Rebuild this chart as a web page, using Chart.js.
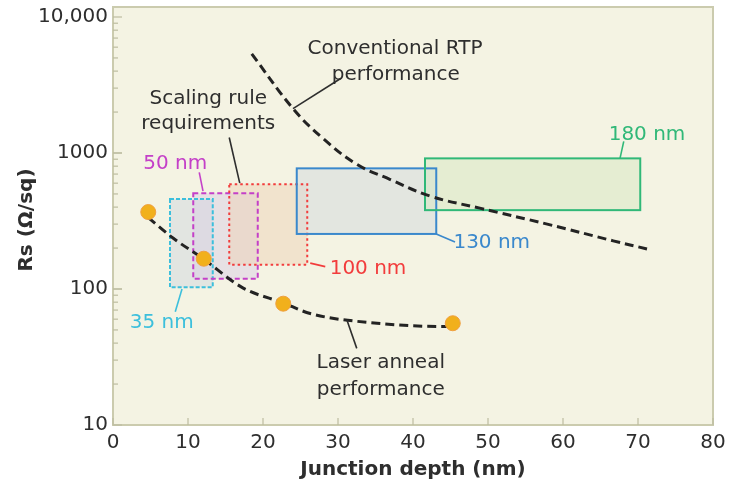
<!DOCTYPE html>
<html>
<head>
<meta charset="utf-8">
<script src="https://cdn.jsdelivr.net/npm/chart.js@4.4.1/dist/chart.umd.min.js"></script>
<style>
    html, body { margin: 0; padding: 0; background: #ffffff; }
    #wrap { width: 743px; height: 500px; position: relative; }
</style>
</head>
<body>
<div id="wrap"><canvas id="rsChart" width="743" height="500"></canvas></div>
<script>
// laser anneal measured points
const laserX = [4.7, 12.1, 22.7, 45.3];
const laserY = [368, 167, 78, 56];

// laser anneal trend (dashed)
const laserCurveX = [4.7, 8, 12, 17.3, 22.7, 26.3, 35.2, 44, 45.3];
const laserCurveY = [335, 237, 167, 102, 79, 66, 56, 53, 53];

// conventional RTP trend (dashed)
const rtpX = [18.5, 24.0, 28.0, 32.5, 36.9, 42.3, 48.9, 57.9, 66.7, 71.2];
const rtpY = [5360, 2120, 1280, 826, 641, 482, 393, 300, 226, 197];

// scaling rule requirement boxes per node
const nodeNames = ['35 nm', '50 nm', '100 nm', '130 nm', '180 nm'];
const nodeXmin = [7.6, 10.7, 15.5, 24.5, 41.6];
const nodeXmax = [13.3, 19.3, 25.9, 43.1, 70.3];
const nodeYmin = [103, 119, 151, 254, 380];
const nodeYmax = [458, 506, 589, 771, 913];

const xTicks = [0, 10, 20, 30, 40, 50, 60, 70, 80];
const yTickValues = [10, 100, 1000, 10000];
const yTickLabels = ['10', '100', '1000', '10,000'];

const INK = '#2e2e2e';
const FONT = '"DejaVu Sans", sans-serif';

const NODE_STYLE = {
    '35 nm':  { stroke: '#3cbfdc', fill: 'rgba(205, 212, 222, 0.45)', dash: [4, 2] },
    '50 nm':  { stroke: '#c440c8', fill: 'rgba(214, 204, 228, 0.45)', dash: [5, 3] },
    '100 nm': { stroke: '#f23c3c', fill: 'rgba(238, 208, 178, 0.45)', dash: [2.5, 3] },
    '130 nm': { stroke: '#3a88cc', fill: 'rgba(214, 218, 222, 0.55)', dash: [] },
    '180 nm': { stroke: '#30b878', fill: 'rgba(214, 232, 194, 0.5)', dash: [] }
};

// text annotations, anchored in data units
const notes = [
    { text: 'Conventional RTP', x: 37.6, y: 5820, color: INK },
    { text: 'performance', x: 37.7, y: 3760, color: INK },
    { text: 'Scaling rule', x: 12.7, y: 2505, color: INK },
    { text: 'requirements', x: 12.7, y: 1650, color: INK },
    { text: '50 nm', x: 8.3, y: 826, color: NODE_STYLE['50 nm'].stroke },
    { text: '100 nm', x: 34, y: 141, color: NODE_STYLE['100 nm'].stroke },
    { text: '130 nm', x: 50.5, y: 218, color: NODE_STYLE['130 nm'].stroke },
    { text: '180 nm', x: 71.2, y: 1368, color: NODE_STYLE['180 nm'].stroke },
    { text: '35 nm', x: 6.5, y: 56.6, color: NODE_STYLE['35 nm'].stroke },
    { text: 'Laser anneal', x: 35.7, y: 28.9, color: INK },
    { text: 'performance', x: 35.7, y: 18, color: INK }
];

const leaders = [
    { x1: 30.3, y1: 3516, x2: 24.0, y2: 2120, color: INK },
    { x1: 15.5, y1: 1300, x2: 16.9, y2: 600, color: INK },
    { x1: 11.5, y1: 721, x2: 12.0, y2: 524, color: NODE_STYLE['50 nm'].stroke },
    { x1: 26.3, y1: 155, x2: 28.3, y2: 146, color: NODE_STYLE['100 nm'].stroke },
    { x1: 43.1, y1: 254, x2: 45.6, y2: 222, color: NODE_STYLE['130 nm'].stroke },
    { x1: 68.1, y1: 1216, x2: 67.6, y2: 913, color: NODE_STYLE['180 nm'].stroke },
    { x1: 9.2, y1: 100, x2: 8.3, y2: 68, color: NODE_STYLE['35 nm'].stroke },
    { x1: 31.2, y1: 59, x2: 32.5, y2: 36.6, color: INK }
];

const toPoints = (xs, ys) => xs.map((x, i) => ({ x, y: ys[i] }));

const plotDecor = {
    id: 'plotDecor',
    beforeDraw(chart) {
        const { ctx, chartArea: a } = chart;
        ctx.save();
        ctx.fillStyle = '#f4f3e3';
        ctx.fillRect(a.left, a.top - 10, a.right - a.left, a.bottom - a.top + 10);
        ctx.restore();
    },
    beforeDatasetsDraw(chart) {
        const { ctx } = chart;
        const sx = chart.scales.x, sy = chart.scales.y;
        ctx.save();
        nodeNames.forEach((name, i) => {
            const x0 = sx.getPixelForValue(nodeXmin[i]), x1 = sx.getPixelForValue(nodeXmax[i]);
            const y0 = sy.getPixelForValue(nodeYmax[i]), y1 = sy.getPixelForValue(nodeYmin[i]);
            ctx.fillStyle = NODE_STYLE[name].fill;
            ctx.fillRect(x0, y0, x1 - x0, y1 - y0);
        });
        nodeNames.forEach((name, i) => {
            const st = NODE_STYLE[name];
            const x0 = sx.getPixelForValue(nodeXmin[i]), x1 = sx.getPixelForValue(nodeXmax[i]);
            const y0 = sy.getPixelForValue(nodeYmax[i]), y1 = sy.getPixelForValue(nodeYmin[i]);
            ctx.strokeStyle = st.stroke;
            ctx.lineWidth = 2;
            ctx.setLineDash(st.dash);
            ctx.strokeRect(x0, y0, x1 - x0, y1 - y0);
        });
        ctx.restore();
    },
    afterDatasetsDraw(chart) {
        const { ctx, chartArea: a } = chart;
        const sx = chart.scales.x, sy = chart.scales.y;
        ctx.save();

        // frame
        ctx.strokeStyle = '#cbcbae';
        ctx.lineWidth = 2;
        ctx.setLineDash([]);
        ctx.strokeRect(a.left, a.top - 10, a.right - a.left, a.bottom - a.top + 10);

        // inward tick marks
        ctx.lineWidth = 1.2;
        ctx.strokeStyle = '#bdbda0';
        xTicks.forEach(v => {
            const px = sx.getPixelForValue(v);
            ctx.beginPath(); ctx.moveTo(px, a.bottom); ctx.lineTo(px, a.bottom - 7); ctx.stroke();
        });
        for (let d = 10; d < 10000; d *= 10) {
            for (let m = 1; m <= 10; m++) {
                const py = sy.getPixelForValue(m * d);
                const len = (m === 1 || m === 10) ? 9 : 5;
                ctx.beginPath(); ctx.moveTo(a.left, py); ctx.lineTo(a.left + len, py); ctx.stroke();
            }
        }

        // leader lines
        ctx.lineWidth = 1.6;
        leaders.forEach(l => {
            ctx.strokeStyle = l.color;
            ctx.beginPath();
            ctx.moveTo(sx.getPixelForValue(l.x1), sy.getPixelForValue(l.y1));
            ctx.lineTo(sx.getPixelForValue(l.x2), sy.getPixelForValue(l.y2));
            ctx.stroke();
        });

        // labels
        ctx.font = '20px ' + FONT;
        ctx.textAlign = 'center';
        ctx.textBaseline = 'middle';
        notes.forEach(n => {
            ctx.fillStyle = n.color;
            ctx.fillText(n.text, sx.getPixelForValue(n.x), sy.getPixelForValue(n.y));
        });

        // axis titles
        ctx.fillStyle = INK;
        ctx.font = 'bold 20px ' + FONT;
        ctx.fillText('Junction depth (nm)', (a.left + a.right) / 2, 470);
        ctx.translate(27, 220);
        ctx.rotate(-Math.PI / 2);
        ctx.fillText('Rs (\u03A9/sq)', 0, 0);
        ctx.restore();
    }
};

new Chart(document.getElementById('rsChart'), {
    type: 'scatter',
    data: {
        datasets: [
            {
                label: 'Laser anneal',
                data: toPoints(laserX, laserY),
                pointRadius: 7.5,
                pointBackgroundColor: '#f1b01c',
                pointBorderColor: '#f0a040',
                pointBorderWidth: 1,
                order: 0
            },
            {
                label: 'Laser anneal trend',
                data: toPoints(laserCurveX, laserCurveY),
                showLine: true,
                pointRadius: 0,
                borderColor: '#232323',
                borderWidth: 3,
                borderDash: [9, 5],
                cubicInterpolationMode: 'monotone',
                order: 1
            },
            {
                label: 'Conventional RTP',
                data: toPoints(rtpX, rtpY),
                showLine: true,
                pointRadius: 0,
                borderColor: '#232323',
                borderWidth: 3,
                borderDash: [9, 5],
                tension: 0.4,
                order: 1
            }
        ]
    },
    options: {
        responsive: false,
        animation: false,
        devicePixelRatio: 1,
        layout: { padding: { left: 0, right: 30, top: 15, bottom: 0 } },
        plugins: {
            legend: { display: false },
            tooltip: { enabled: false }
        },
        scales: {
            x: {
                type: 'linear',
                min: 0,
                max: 80,
                afterBuildTicks: s => { s.ticks = xTicks.map(v => ({ value: v })); },
                afterFit: s => { s.height = 75; },
                grid: { display: false, drawTicks: false },
                border: { display: false },
                ticks: {
                    color: INK,
                    font: { family: FONT, size: 20 },
                    padding: 6,
                    maxRotation: 0,
                    autoSkip: false
                }
            },
            y: {
                type: 'logarithmic',
                min: 10,
                max: 10000,
                afterBuildTicks: s => { s.ticks = yTickValues.map(v => ({ value: v })); },
                afterFit: s => { s.width = 113; },
                grid: { display: false, drawTicks: false },
                border: { display: false },
                ticks: {
                    color: INK,
                    font: { family: FONT, size: 20 },
                    padding: 5,
                    autoSkip: false,
                    callback: (v, i) => yTickLabels[i]
                }
            }
        }
    },
    plugins: [plotDecor]
});
</script>
</body>
</html>
